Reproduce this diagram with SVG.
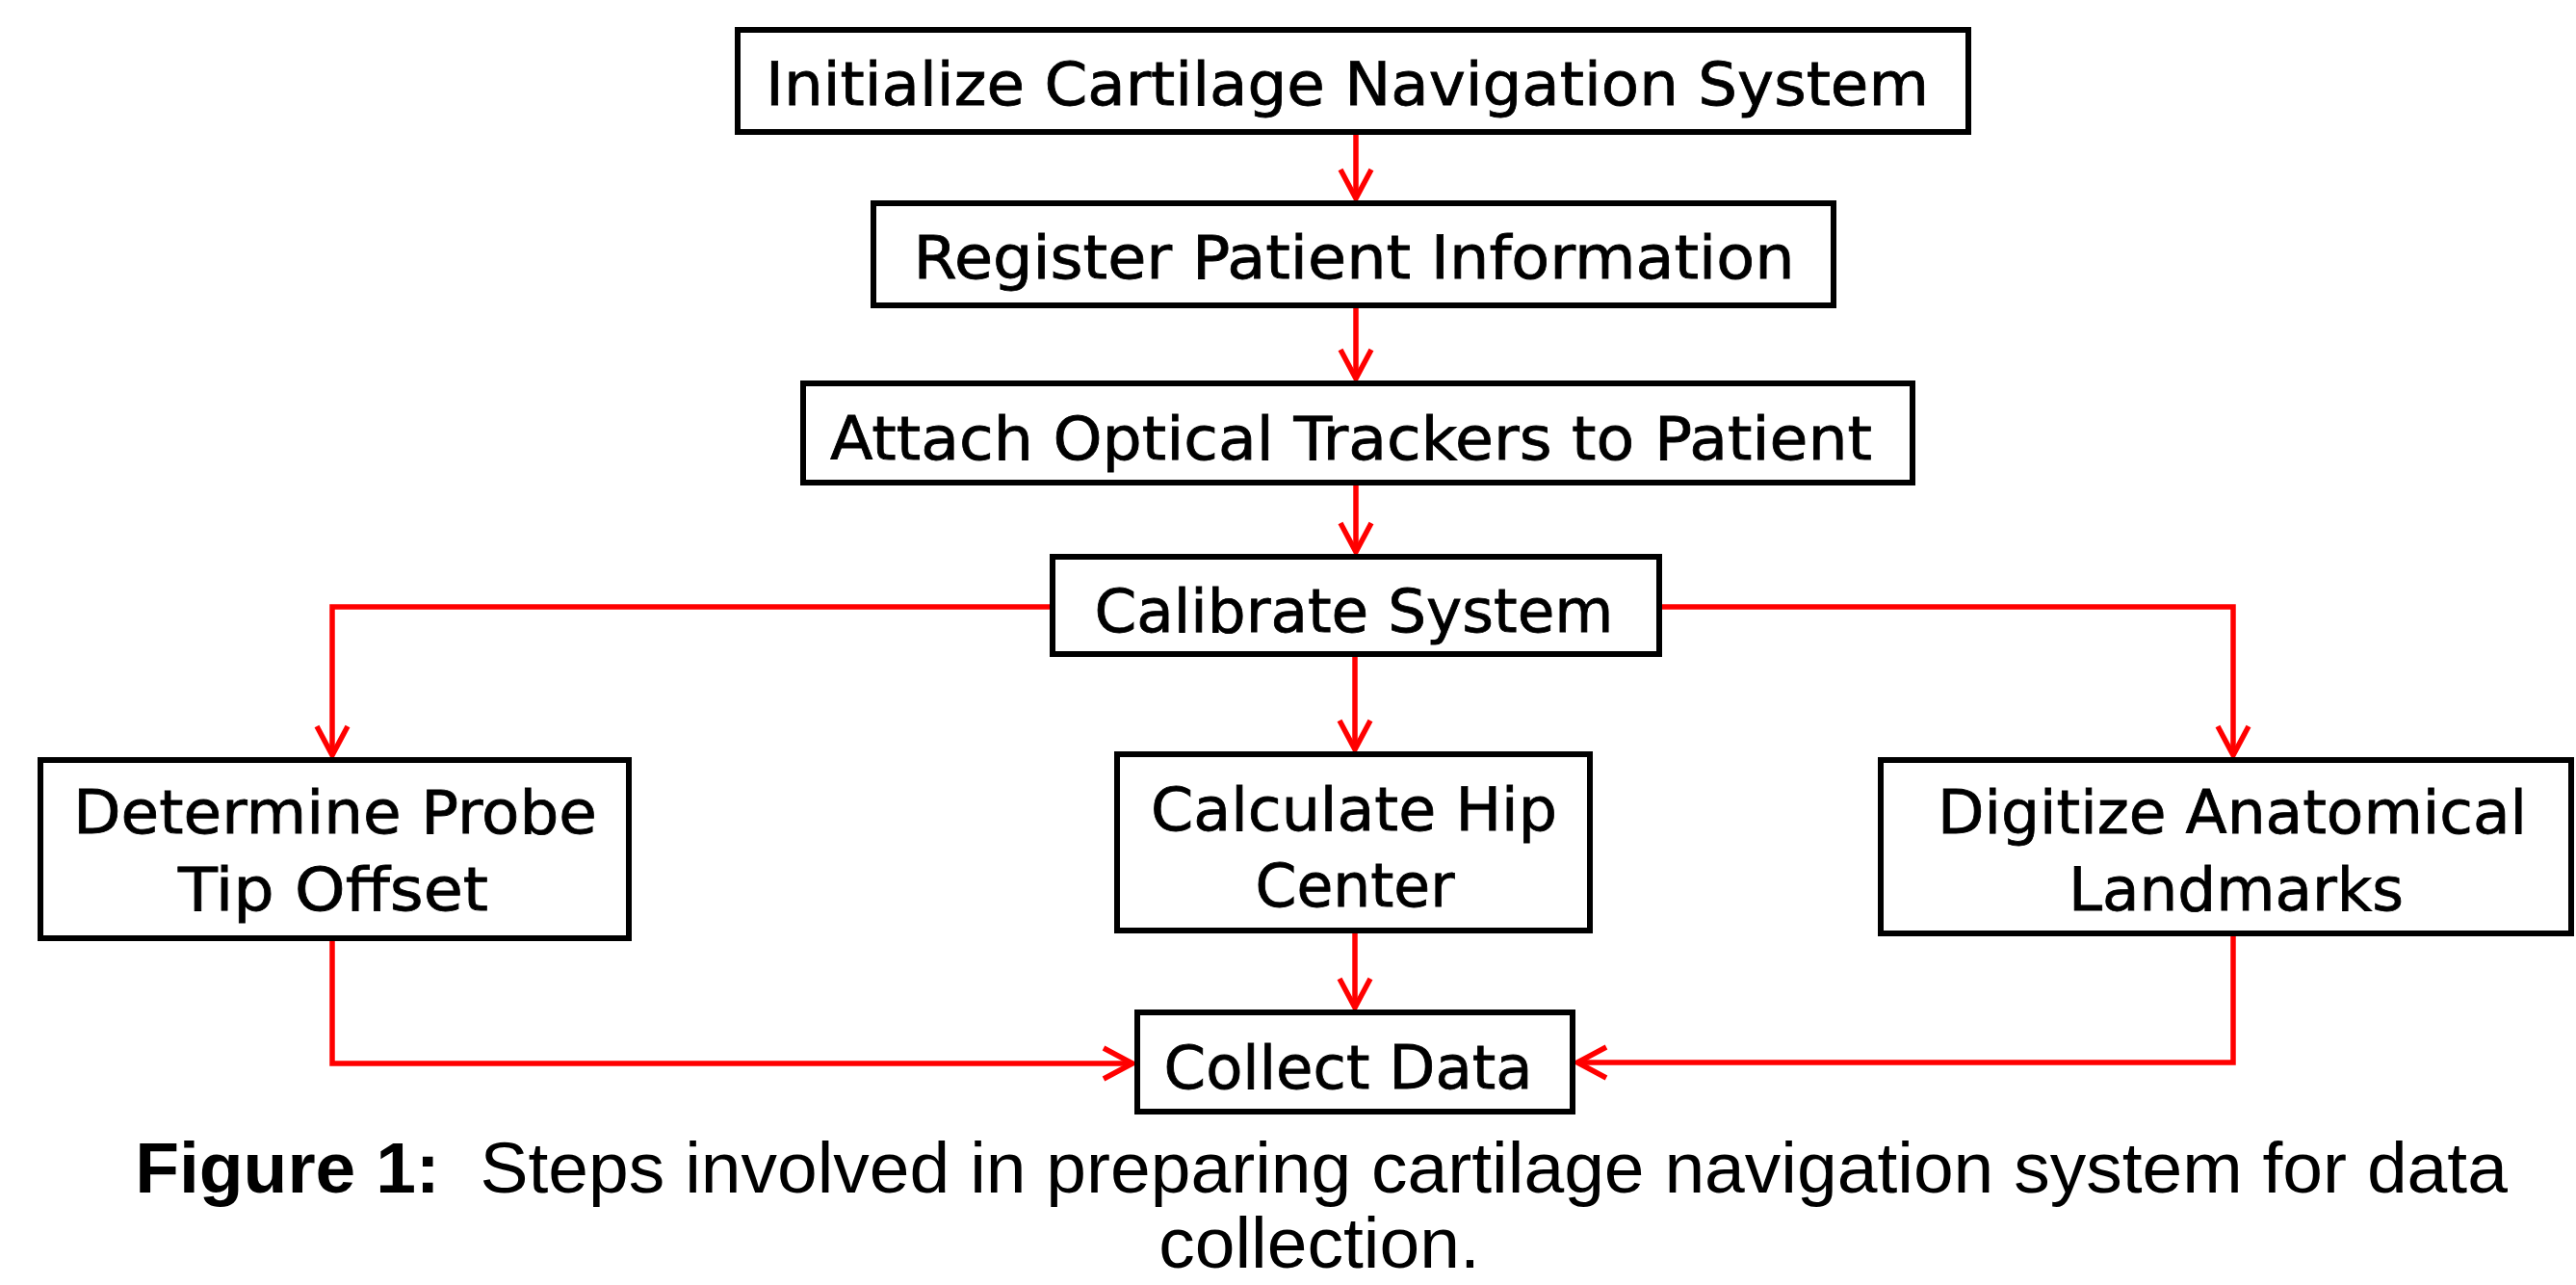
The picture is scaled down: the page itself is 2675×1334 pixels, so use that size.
<svg xmlns="http://www.w3.org/2000/svg" width="2675" height="1334" viewBox="0 0 2675 1334">
<style>
.box{fill:#fff;stroke:#000;stroke-width:6}
.t{font-family:"DejaVu Sans",Verdana,sans-serif;font-size:63px;fill:#000;text-anchor:middle;stroke:#000;stroke-width:0.8}
.c{fill:none;stroke:#ff0000;stroke-width:5.5;marker-end:url(#ah)}
.cap{font-family:"Liberation Sans",Arial,sans-serif;font-size:75px;fill:#000;text-anchor:middle;white-space:pre}
</style>
<defs>
<marker id="ah" markerUnits="userSpaceOnUse" viewBox="-34 -20 38 40" refX="0" refY="0" markerWidth="38" markerHeight="40" orient="auto">
<path d="M-30,-16 L0,0 L-30,16" fill="none" stroke="#ff0000" stroke-width="5.5"/>
</marker>
</defs>
<rect width="2675" height="1334" fill="#fff"/>
<g id="connectors">
<path class="c" d="M1408,140 V206"/>
<path class="c" d="M1408,320 V393"/>
<path class="c" d="M1408,504 V573"/>
<path class="c" d="M1407,682 V778"/>
<path class="c" d="M1407,969 V1046"/>
<path class="c" d="M1090,630 H345 V784"/>
<path class="c" d="M1726,630 H2319 V784"/>
<path class="c" d="M345,977 V1104 H1176"/>
<path class="c" d="M2319,972 V1103 H1638"/>
</g>
<g id="n1"><rect class="box" x="766" y="31" width="1278" height="106"/><text class="t" x="1399" y="109" textLength="1208" lengthAdjust="spacingAndGlyphs">Initialize Cartilage Navigation System</text></g>
<g id="n2"><rect class="box" x="907" y="211" width="997" height="106"/><text class="t" x="1406" y="289" textLength="915" lengthAdjust="spacingAndGlyphs">Register Patient Information</text></g>
<g id="n3"><rect class="box" x="834" y="398" width="1152" height="103"/><text class="t" x="1403" y="477" textLength="1082" lengthAdjust="spacingAndGlyphs">Attach Optical Trackers to Patient</text></g>
<g id="n4"><rect class="box" x="1093" y="578" width="630" height="101"/><text class="t" x="1406" y="656" textLength="539" lengthAdjust="spacingAndGlyphs">Calibrate System</text></g>
<g id="n5"><rect class="box" x="42" y="789" width="611" height="185"/><text class="t" x="348" y="865" textLength="544" lengthAdjust="spacingAndGlyphs">Determine Probe</text><text class="t" x="346" y="945" textLength="322" lengthAdjust="spacingAndGlyphs">Tip Offset</text></g>
<g id="n6"><rect class="box" x="1160" y="783" width="491" height="183"/><text class="t" x="1406" y="862" textLength="422" lengthAdjust="spacingAndGlyphs">Calculate Hip</text><text class="t" x="1407" y="941" textLength="207" lengthAdjust="spacingAndGlyphs">Center</text></g>
<g id="n7"><rect class="box" x="1953" y="789" width="717" height="180"/><text class="t" x="2318" y="865" textLength="612" lengthAdjust="spacingAndGlyphs">Digitize Anatomical</text><text class="t" x="2322" y="945" textLength="348" lengthAdjust="spacingAndGlyphs">Landmarks</text></g>
<g id="n8"><rect class="box" x="1181" y="1051" width="452" height="103"/><text class="t" x="1400" y="1130" textLength="383" lengthAdjust="spacingAndGlyphs">Collect Data</text></g>
<g id="caption">
<text class="cap" x="1372" y="1238"><tspan font-weight="bold">Figure 1:</tspan>  Steps involved in preparing cartilage navigation system for data</text>
<text class="cap" x="1370" y="1316">collection.</text>
</g>
</svg>
